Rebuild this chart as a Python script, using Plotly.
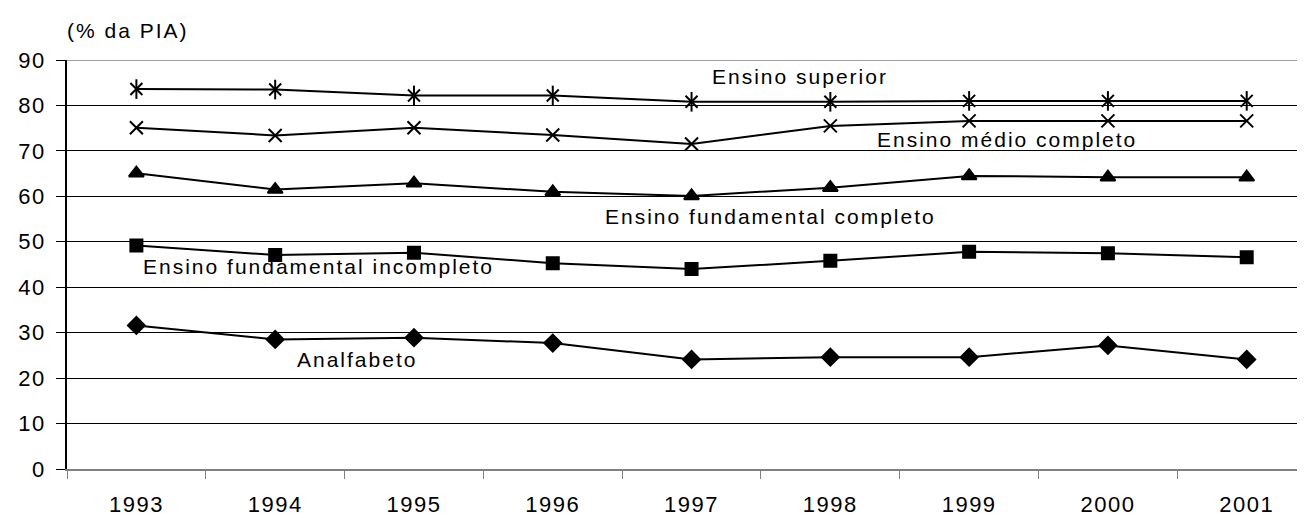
import plotly.graph_objects as go

years = ["1993", "1994", "1995", "1996", "1997", "1998", "1999", "2000", "2001"]
superior = [83.6, 83.5, 82.2, 82.2, 80.8, 80.8, 81.0, 81.0, 81.0]
medio = [75.1, 73.4, 75.1, 73.5, 71.5, 75.5, 76.6, 76.6, 76.6]
fund_completo = [65.1, 61.5, 62.9, 61.0, 60.1, 61.9, 64.5, 64.2, 64.2]
fund_incompleto = [49.2, 47.1, 47.6, 45.3, 44.0, 45.8, 47.8, 47.5, 46.6]
analfabeto = [31.6, 28.5, 28.9, 27.7, 24.1, 24.6, 24.6, 27.2, 24.1]
y_ticks = [0, 10, 20, 30, 40, 50, 60, 70, 80, 90]

series = [
    ("Ensino superior", superior, "x-thin-open", 12),
    ("Ensino médio completo", medio, "x-thin-open", 13),
    ("Ensino fundamental completo", fund_completo, "triangle-up", 13),
    ("Ensino fundamental incompleto", fund_incompleto, "square", 12),
    ("Analfabeto", analfabeto, "diamond", 13),
]

# label positions (category index, value)
labels = [
    ("Ensino superior", 4.78, 86.3),
    ("Ensino médio completo", 6.27, 72.6),
    ("Ensino fundamental completo", 4.57, 55.5),
    ("Ensino fundamental incompleto", 1.31, 44.5),
    ("Analfabeto", 1.59, 24.2),
]

FONT = "Liberation Sans, Arial, sans-serif"


def spaced(t, sp=2):
    return f'<span style="letter-spacing:{sp}px">{t}</span>'


fig = go.Figure()
for name, vals, sym, sz in series:
    fig.add_trace(go.Scatter(
        x=years, y=vals, name=name, mode="lines+markers",
        line=dict(color="black", width=2),
        marker=dict(symbol=sym, size=sz, color="black",
                    line=dict(color="black", width=2)),
        showlegend=False,
    ))
# vertical stroke completing the asterisk-like marker of "Ensino superior"
fig.add_trace(go.Scatter(
    x=years, y=superior, mode="markers", showlegend=False,
    marker=dict(symbol="line-ns-open", size=14, color="black",
                line=dict(color="black", width=2)),
))

for text, xi, yv in labels:
    fig.add_annotation(x=xi, y=yv, xref="x", yref="y", text=spaced(text),
                       showarrow=False,
                       font=dict(family=FONT, size=21, color="black"))

fig.add_annotation(x=0, y=1.0, xref="paper", yref="paper", text=spaced("(% da PIA)"),
                   showarrow=False, xanchor="left", yanchor="middle",
                   xshift=-2, yshift=30,
                   font=dict(family=FONT, size=21, color="black"))

fig.update_layout(
    width=1297, height=510,
    margin=dict(l=59, r=0, t=52, b=49),
    paper_bgcolor="white", plot_bgcolor="white",
    font=dict(family=FONT, color="black"),
    xaxis=dict(
        type="category", range=[-0.5, 8.42],
        tickvals=years, ticktext=[spaced(y, 1.5) for y in years],
        showgrid=False, showline=True, linecolor="#808080", linewidth=2,
        ticks="outside", ticklen=8, tickcolor="#808080", tickwidth=1,
        tickson="boundaries", ticklabelstandoff=15,
        tickfont=dict(family=FONT, size=22, color="black"),
        zeroline=False,
    ),
    yaxis=dict(
        range=[0, 90], tickvals=y_ticks,
        ticktext=[spaced(str(v), 1.5) for v in y_ticks],
        showgrid=True, gridcolor="black", gridwidth=1,
        showline=True, linecolor="black", linewidth=1.5,
        ticks="outside", ticklen=9, tickcolor="black",
        ticklabelstandoff=6,
        tickfont=dict(family=FONT, size=22, color="black"),
        zeroline=False,
    ),
)

fig.add_shape(type="line", xref="paper", yref="y", x0=0, x1=1, y0=90, y1=90,
              line=dict(color="#a0a0a0", width=2))

fig.write_html("out.html")
